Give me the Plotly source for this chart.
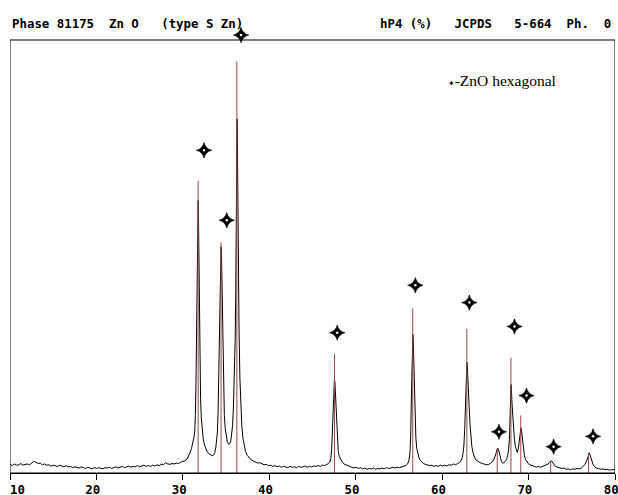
import plotly.graph_objects as go

# ---- measured diffractogram (2-theta in degrees, intensity in % of strongest reference line) ----
two_theta = [
    10.00, 10.25, 10.50, 10.75, 11.00, 11.25, 11.50, 11.75, 12.00, 12.25, 12.50, 12.75, 13.00, 13.25,
    13.50, 13.75, 14.00, 14.25, 14.50, 14.75, 15.00, 15.25, 15.50, 15.75, 16.00, 16.25, 16.50, 16.75,
    17.00, 17.25, 17.50, 17.75, 18.00, 18.25, 18.50, 18.75, 19.00, 19.25, 19.50, 19.75, 20.00, 20.25,
    20.50, 20.75, 21.00, 21.25, 21.50, 21.75, 22.00, 22.25, 22.50, 22.75, 23.00, 23.25, 23.50, 23.75,
    24.00, 24.25, 24.50, 24.75, 25.00, 25.25, 25.50, 25.75, 26.00, 26.25, 26.50, 26.75, 27.00, 27.25,
    27.50, 27.75, 28.00, 28.25, 28.50, 28.75, 29.00, 29.25, 29.50, 29.75, 30.00, 30.25,
    30.50, 30.70, 30.85, 31.00, 31.15, 31.27, 31.37, 31.45, 31.52, 31.58, 31.63, 31.68, 31.73, 31.77,
    31.81, 31.86, 31.92, 31.98, 32.05, 32.13, 32.24, 32.36, 32.50, 32.65, 32.80, 33.00, 33.20, 33.40,
    33.55, 33.70, 33.82, 33.92, 34.00, 34.08, 34.15, 34.22, 34.30, 34.36, 34.42, 34.48, 34.55, 34.62,
    34.70, 34.80, 34.90, 35.02, 35.15, 35.30, 35.42, 35.55, 35.65, 35.75, 35.85, 35.95, 36.05, 36.12,
    36.18, 36.23, 36.27, 36.31, 36.36, 36.42, 36.50, 36.60, 36.70, 36.82, 36.95, 37.10, 37.25, 37.45,
    37.65, 37.90, 38.15, 38.40, 38.65, 38.90, 39.15, 39.40, 39.65, 39.90, 40.15, 40.40, 40.65, 40.90,
    41.15, 41.40, 41.65, 41.90, 42.15, 42.40, 42.65, 42.90, 43.15, 43.40, 43.65, 43.90, 44.15, 44.40,
    44.65, 44.90, 45.15, 45.40, 45.65, 45.90, 46.15, 46.40, 46.65, 46.85, 47.00, 47.12, 47.22, 47.30,
    47.37, 47.43, 47.49, 47.54, 47.59, 47.65, 47.72, 47.80, 47.88, 47.98, 48.10, 48.25, 48.45, 48.65,
    48.85, 49.05, 49.30, 49.55, 49.80, 50.05, 50.30, 50.55, 50.80, 51.05, 51.30, 51.55, 51.80, 52.05,
    52.30, 52.55, 52.80, 53.05, 53.30, 53.55, 53.80, 54.05, 54.30, 54.55, 54.80, 55.05, 55.30, 55.55,
    55.80, 56.00, 56.15, 56.27, 56.36, 56.43, 56.50, 56.56, 56.61, 56.66, 56.72, 56.79, 56.87, 56.96,
    57.06, 57.18, 57.32, 57.48, 57.65, 57.85, 58.05, 58.30, 58.55, 58.80, 59.05, 59.30, 59.55, 59.80,
    60.05, 60.30, 60.55, 60.80, 61.05, 61.30, 61.55, 61.80, 62.00, 62.15, 62.30, 62.42, 62.52, 62.61,
    62.69, 62.76, 62.82, 62.87, 62.92, 62.98, 63.05, 63.13, 63.22, 63.32, 63.44, 63.58, 63.75, 63.95,
    64.15, 64.40, 64.65, 64.90, 65.15, 65.40, 65.65, 65.85, 66.02, 66.15, 66.27, 66.37, 66.45, 66.53,
    66.62, 66.72, 66.85, 67.00, 67.15, 67.30, 67.45, 67.58, 67.70, 67.79, 67.86, 67.92, 67.97, 68.02,
    68.08, 68.16, 68.25, 68.36, 68.48, 68.60, 68.70, 68.80, 68.90, 68.98, 69.06, 69.12, 69.18, 69.25,
    69.33, 69.42, 69.52, 69.65, 69.80, 69.95, 70.15, 70.40, 70.65, 70.90, 71.15, 71.40, 71.65, 71.90,
    72.10, 72.28, 72.42, 72.55, 72.67, 72.78, 72.92, 73.10, 73.35, 73.60, 73.85, 74.10, 74.35, 74.60,
    74.85, 75.10, 75.35, 75.60, 75.85, 76.10, 76.30, 76.50, 76.68, 76.82, 76.93, 77.02, 77.10, 77.20,
    77.32, 77.47, 77.65, 77.85, 78.10, 78.35, 78.60, 78.85, 79.10, 79.35, 79.60, 79.85, 80.00,
]
intensity = [
    2.1, 1.8, 2.2, 1.9, 2.0, 2.3, 1.9, 2.1, 2.2, 2.0, 2.4, 2.8, 2.6, 2.3,
    2.4, 2.0, 2.2, 1.9, 2.0, 1.7, 1.9, 1.8, 1.6, 1.9, 1.7, 1.5, 1.8, 1.5,
    1.6, 1.3, 1.5, 1.4, 1.2, 1.5, 1.3, 1.1, 1.4, 1.2, 1.0, 1.3, 1.1, 1.3,
    1.2, 1.0, 1.3, 1.2, 1.4, 1.1, 1.3, 1.5, 1.2, 1.4, 1.6, 1.3, 1.5, 1.7,
    1.4, 1.6, 1.5, 1.8, 1.5, 1.7, 1.9, 1.6, 1.8, 1.6, 1.9, 1.7, 2.0, 1.8,
    2.1, 2.0, 2.5, 2.2, 2.1, 2.3, 2.2, 2.4, 2.3, 2.6, 2.8, 3.0,
    3.4, 4.2, 5.0, 6.0, 7.2, 8.5, 10.0, 14.0, 22.0, 33.0, 44.0, 55.0, 63.0, 66.2,
    62.0, 52.0, 38.0, 26.0, 18.0, 13.5, 10.5, 8.2, 6.8, 5.8, 5.2, 4.7, 4.4, 4.2,
    4.3, 5.0, 6.3, 8.0, 10.0, 15.0, 25.0, 38.0, 47.0, 52.0, 55.0, 52.0, 42.0, 32.0,
    21.0, 14.0, 10.8, 8.6, 7.5, 7.0, 7.1, 7.8, 9.2, 11.5, 16.0, 23.0, 32.0, 44.0,
    60.0, 77.0, 86.0, 82.0, 68.0, 50.0, 35.0, 23.0, 16.0, 11.5, 8.5, 6.5, 5.2, 4.3,
    3.7, 3.2, 2.9, 2.6, 2.4, 2.5, 2.2, 2.0, 2.1, 1.8, 1.9, 1.6, 1.8, 1.5,
    1.7, 1.4, 1.6, 1.5, 1.3, 1.6, 1.4, 1.5, 1.3, 1.6, 1.4, 1.5, 1.7, 1.4,
    1.6, 1.5, 1.7, 1.6, 1.8, 1.6, 1.9, 1.8, 2.0, 2.3, 2.6, 3.5, 6.0, 10.0,
    15.0, 19.5, 22.0, 22.7, 22.2, 19.5, 15.5, 10.5, 7.3, 5.2, 4.0, 3.2, 2.6, 2.2,
    2.0, 1.7, 1.6, 1.4, 1.2, 1.4, 1.1, 1.3, 1.0, 1.2, 0.9, 1.1, 1.0, 1.2,
    0.9, 1.1, 1.0, 1.2, 1.0, 1.3, 1.1, 1.2, 1.4, 1.2, 1.4, 1.3, 1.5, 1.6,
    1.8, 2.2, 3.0, 4.8, 9.0, 17.0, 26.0, 31.5, 33.7, 32.0, 27.0, 20.0, 13.0, 8.5,
    6.0, 4.6, 3.7, 3.0, 2.6, 2.3, 2.1, 1.9, 1.8, 1.9, 1.6, 1.8, 1.6, 1.9,
    1.7, 1.9, 1.7, 2.0, 1.9, 2.2, 2.0, 2.3, 2.5, 2.9, 3.6, 4.8, 6.8, 10.5,
    16.5, 22.5, 26.0, 26.9, 25.5, 23.5, 20.5, 16.0, 12.0, 8.8, 6.4, 4.9, 3.8, 3.1,
    2.8, 2.5, 2.3, 2.1, 2.0, 2.1, 2.4, 2.8, 3.4, 4.1, 5.0, 5.8, 6.0, 5.6,
    4.7, 3.7, 2.9, 2.4, 2.5, 2.8, 3.3, 4.2, 5.8, 8.5, 13.0, 18.5, 21.5, 20.0,
    17.0, 13.5, 10.5, 8.2, 6.4, 5.2, 5.0, 5.7, 7.2, 9.0, 10.5, 11.0, 10.5, 9.0,
    7.0, 5.3, 4.2, 3.3, 2.7, 2.3, 2.0, 1.7, 1.6, 1.4, 1.6, 1.4, 1.6, 1.7,
    1.9, 2.2, 2.6, 2.9, 2.9, 2.5, 2.0, 1.6, 1.4, 1.2, 1.1, 1.2, 0.9, 1.0,
    0.8, 1.0, 0.9, 1.1, 1.0, 1.2, 1.5, 2.0, 2.7, 3.6, 4.4, 4.8, 4.5, 3.7,
    2.8, 2.0, 1.5, 1.2, 1.1, 0.9, 1.0, 0.8, 0.9, 0.7, 0.8, 0.7, 0.8,
]

# ---- JCPDS 5-664 ZnO reference lines ----
ref_two_theta = [31.77, 34.42, 36.25, 47.54, 56.60, 62.86, 66.38, 67.96, 69.10, 72.56, 76.95]
ref_intensity = [71, 56, 100, 29, 40, 35, 6, 28, 14, 3, 5]

# ---- peak identification markers (ZnO hexagonal) ----
mark_two_theta = [32.45, 36.73, 35.08, 47.86, 56.90, 63.15, 66.57, 68.37, 69.76, 72.89, 77.46]
mark_intensity = [78.4, 106.4, 61.4, 34.1, 45.6, 41.4, 10.0, 35.6, 18.8, 6.4, 8.9]

x_ticks = [10, 20, 30, 40, 50, 60, 70, 80]
x_tick_labels = ["10", "20", "30", "40", "50", "60", "70", "80"]
x_min, x_max = 10, 80
frame_top = 105.2          # top of the drawn frame, in intensity units

header_left = "Phase 81175  Zn O   (type S Zn)"
header_right = "hP4 (%)   JCPDS   5-664  Ph.  0"
legend_text = "-ZnO hexagonal"

MONO = "DejaVu Sans Mono"
NB = "\u00a0"

# first label sits to the right of its tick, the others slightly to the left
tick_text = [NB * 2 + x_tick_labels[0]] + [t + NB for t in x_tick_labels[1:]]

fig = go.Figure()

fig.add_trace(go.Scatter(
    x=two_theta, y=intensity, mode="lines",
    line=dict(color="black", width=1), hoverinfo="skip", showlegend=False,
))

stick_x, stick_y = [], []
for p, h in zip(ref_two_theta, ref_intensity):
    stick_x += [p, p, None]
    stick_y += [0, h, None]
fig.add_trace(go.Scatter(
    x=stick_x, y=stick_y, mode="lines",
    line=dict(color="#9c4646", width=1), hoverinfo="skip", showlegend=False,
))

fig.add_trace(go.Scatter(
    x=mark_two_theta, y=mark_intensity, mode="markers", cliponaxis=False,
    marker=dict(symbol="star-diamond", size=11, color="black",
                line=dict(color="black", width=0.6)),
    hoverinfo="skip", showlegend=False,
))
fig.add_trace(go.Scatter(
    x=mark_two_theta, y=mark_intensity, mode="markers", cliponaxis=False,
    marker=dict(symbol="circle", size=2.5, color="white", line=dict(width=0)),
    hoverinfo="skip", showlegend=False,
))

fig.add_shape(type="rect", xref="x", yref="y", x0=x_min, x1=x_max, y0=0, y1=frame_top,
              line=dict(color="black", width=1), fillcolor="rgba(0,0,0,0)", layer="above")

fig.update_layout(
    width=618, height=495,
    margin=dict(l=10, r=3, t=26, b=22, autoexpand=False),
    paper_bgcolor="white", plot_bgcolor="white",
    showlegend=False,
    xaxis=dict(
        range=[x_min, x_max], tickvals=x_ticks, ticktext=tick_text,
        showgrid=False, zeroline=False, automargin=False,
        showline=True, linecolor="black", linewidth=1, mirror=False,
        ticks="outside", ticklen=6, tickcolor="black", tickwidth=1,
        tickfont=dict(family=MONO, size=12.4, color="black", weight="bold"),
        ticklabelstandoff=-1, ticklabeloverflow="allow",
    ),
    yaxis=dict(
        range=[0, 108.6], showgrid=False, zeroline=False, automargin=False,
        showline=False, showticklabels=False, ticks="",
    ),
    annotations=[
        dict(text=header_left.replace(" ", NB), xref="paper", yref="paper", x=0.0, y=1.0067,
             xanchor="left", yanchor="middle", showarrow=False,
             font=dict(family=MONO, size=12.4, color="black", weight="bold")),
        dict(text=header_right.replace(" ", NB), xref="paper", yref="paper", x=0.997, y=1.0067,
             xanchor="right", yanchor="middle", showarrow=False,
             font=dict(family=MONO, size=12.4, color="black", weight="bold")),
        dict(text='<span style="font-family:DejaVu Sans;font-size:8px">✦</span>' + legend_text,
             xref="paper", yref="paper", x=0.7207, y=0.877,
             xanchor="left", yanchor="middle", showarrow=False,
             font=dict(family="Liberation Serif", size=15.5, color="black")),
    ],
)

fig.write_html(
    "out.html",
    config={"displayModeBar": False},
    post_script="document.body.style.margin='0px';document.body.style.overflow='hidden';",
)
